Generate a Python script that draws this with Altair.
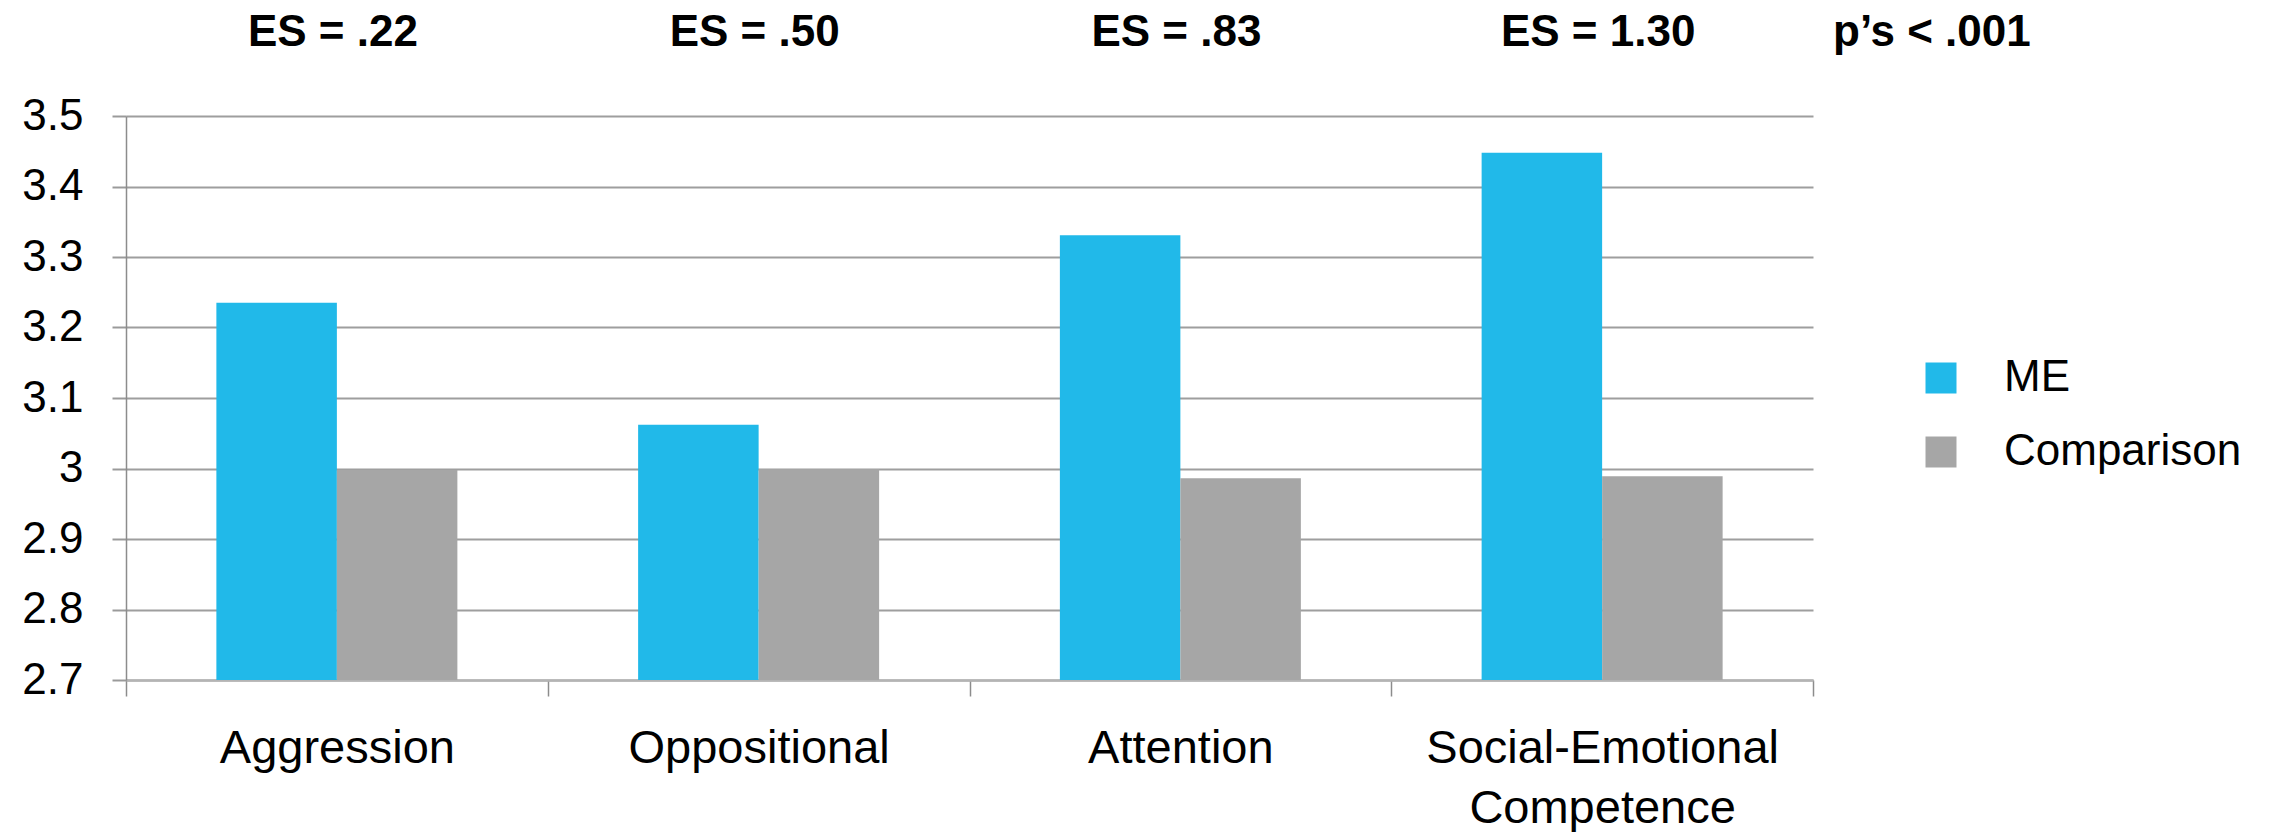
import altair as alt
import pandas as pd

# Outcome domains and group means
categories = ["Aggression", "Oppositional", "Attention", "Social-Emotional Competence"]
groups = ["ME", "Comparison"]
me_means = [3.235, 3.062, 3.331, 3.448]
comparison_means = [2.998, 2.999, 2.986, 2.989]
effect_sizes = ["ES = .22", "ES = .50", "ES = .83", "ES = 1.30"]
p_note = "p\u2019s < .001"
y_ticks = [2.7, 2.8, 2.9, 3.0, 3.1, 3.2, 3.3, 3.4, 3.5]
colors = ["#21B9E9", "#A6A6A6"]

FONT = "Liberation Sans"

bars_df = pd.DataFrame(
    [{"category": c, "group": "ME", "mean": v} for c, v in zip(categories, me_means)]
    + [{"category": c, "group": "Comparison", "mean": v} for c, v in zip(categories, comparison_means)]
)
es_df = pd.DataFrame({"category": categories, "es": effect_sizes})
note_df = pd.DataFrame({"note": [p_note]})

x_enc = alt.X(
    "category:N",
    sort=categories,
    scale=alt.Scale(paddingInner=0, paddingOuter=0),
    axis=alt.Axis(
        title=None,
        labelAngle=0,
        labelFont=FONT,
        labelFontSize=47,
        labelColor="#000000",
        labelBaseline="alphabetic",
        labelPadding=66,
        labelLineHeight=60,
        labelLimit=0,
        labelExpr="datum.value == 'Social-Emotional Competence' ? ['Social-Emotional', 'Competence'] : datum.label",
        tickBand="extent",
        tickSize=16,
        tickColor="#8C8C8C",
        tickWidth=1.5,
        domainColor="#B4B4B4",
        domainWidth=2.5,
        grid=False,
    ),
)

bars = alt.Chart(bars_df).mark_bar().encode(
    x=x_enc,
    xOffset=alt.XOffset(
        "group:N", sort=groups, scale=alt.Scale(paddingInner=0, paddingOuter=0.75)
    ),
    y=alt.Y(
        "mean:Q",
        scale=alt.Scale(domain=[2.7, 3.5], zero=False, nice=False),
        axis=alt.Axis(
            title=None,
            values=y_ticks,
            format=".1~f",
            labelFont=FONT,
            labelFontSize=44,
            labelColor="#000000",
            labelPadding=29,
            tickSize=14,
            tickColor="#9A9A9A",
            tickWidth=2,
            domainColor="#8C8C8C",
            domainWidth=1.5,
            grid=True,
            gridColor="#9E9E9E",
            gridWidth=2,
        ),
    ),
    y2=alt.datum(2.7),
    color=alt.Color(
        "group:N",
        sort=groups,
        scale=alt.Scale(domain=groups, range=colors),
        legend=alt.Legend(
            title=None,
            orient="none",
            legendX=1793,
            legendY=240,
            symbolType="square",
            symbolSize=961,
            symbolStrokeWidth=0,
            labelFont=FONT,
            labelFontSize=44,
            labelColor="#000000",
            labelOffset=41,
            labelLimit=0,
            rowPadding=30,
            padding=0,
        ),
    ),
)

es_text = alt.Chart(es_df).mark_text(
    font=FONT, fontSize=44, fontWeight="bold", color="#000000",
    baseline="alphabetic", dx=-4
).encode(
    x=alt.X("category:N", sort=categories),
    y=alt.value(-70),
    text="es:N",
)

note_text = alt.Chart(note_df).mark_text(
    font=FONT, fontSize=44, fontWeight="bold", color="#000000",
    baseline="alphabetic", align="left"
).encode(
    x=alt.value(1707),
    y=alt.value(-70),
    text="note:N",
)

chart = (
    alt.layer(bars, es_text, note_text)
    .properties(
        width=1687,
        height=564,
        autosize=alt.AutoSizeParams(type="none"),
        padding={"left": 126, "top": 116, "right": 463, "bottom": 152},
        background="#FFFFFF",
    )
    .configure_view(stroke=None)
)

chart.save("out.html", embed_options={"renderer": "svg", "actions": False})
